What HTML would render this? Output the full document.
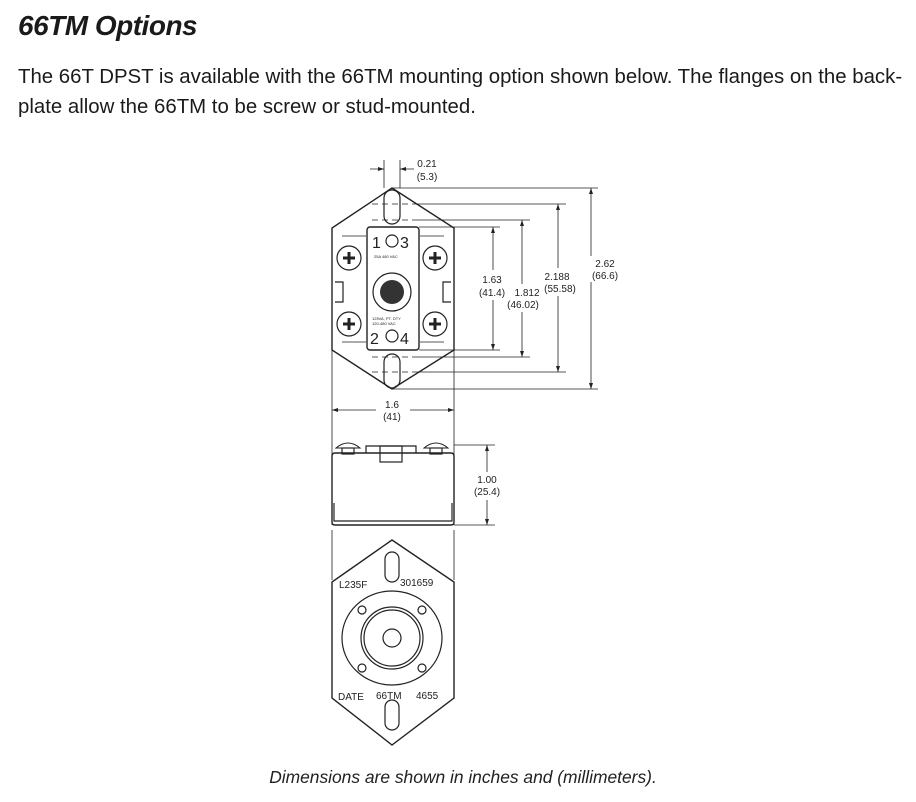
<!DOCTYPE html>
<html><head><style>
body{margin:0;width:916px;height:802px;background:#fff;font-family:"Liberation Sans",sans-serif;position:relative;overflow:hidden}
h1{position:absolute;left:18px;top:10px;margin:0;font-size:28px;font-weight:bold;font-style:italic;color:#1a1a1a;letter-spacing:-0.5px}
p{position:absolute;left:18px;top:62px;margin:0;font-size:20.4px;line-height:30px;color:#1a1a1a;width:898px;white-space:nowrap}
.cap{position:absolute;left:0;width:926px;text-align:center;top:767px;font-size:17.4px;font-style:italic;color:#222}
svg{position:absolute;left:0;top:0}
</style></head><body>
<h1>66TM Options</h1>
<p>The 66T DPST is available with the 66TM mounting option shown below. The flanges on the back-<br>plate allow the 66TM to be screw or stud-mounted.</p>
<svg width="916" height="802" font-family="Liberation Sans, sans-serif" font-size="10" fill="none" stroke="#222" stroke-width="1.2">
<path d="M392,188 L332,228 L332,350 L392,389 L454,350 L454,228 Z" stroke-width="1.4"/>
<path d="M342,236 h24 M342,342 h24 M420,236 h24 M420,342 h24" stroke-width="0.8"/>
<rect x="384" y="190" width="16" height="34" rx="8"/>
<rect x="384" y="354" width="16" height="34" rx="8"/>
<rect x="367" y="227" width="52" height="123" rx="3" stroke-width="1.4"/>
<circle cx="392" cy="292" r="19"/>
<circle cx="392" cy="292" r="12" fill="#333" stroke="none"/>
<circle cx="392" cy="241" r="6"/><circle cx="392" cy="336" r="6"/>
<circle cx="349" cy="258" r="12"/><circle cx="435" cy="258" r="12"/>
<circle cx="349" cy="324" r="12"/><circle cx="435" cy="324" r="12"/>
<path d="M343,258h12M349,252v12M429,258h12M435,252v12M343,324h12M349,318v12M429,324h12M435,318v12" stroke-width="3"/>
<path d="M335,282 h8 v20 h-8 M451,282 h-8 v20 h8" />
<g fill="#222" stroke="none" font-size="16"><text x="372" y="248">1</text><text x="400" y="248">3</text><text x="370" y="344">2</text><text x="400" y="344">4</text></g>
<g fill="#222" stroke="none" font-size="4"><text x="374" y="258">25A 480 VAC</text><text x="372" y="320">125VA, PT. DTY</text><text x="372" y="325">120-480 VAC</text></g>
<path d="M372,204 h40 M372,220 h40 M372,357 h40 M372,372 h40" stroke-dasharray="6,4" stroke-width="0.8"/>
<g stroke-width="0.8">
<path d="M392,188 H598 M412,204 H566 M412,220 H530 M419,227 H500 M419,350 H500 M412,357 H530 M412,372 H566 M392,389 H598"/>
<path d="M384,160 V188 M400,160 V188 M332,350 V525 M454,350 V525 M332,530 V580 M454,530 V580"/>
<path d="M493,227 V350 M522,220 V357 M558,204 V372 M591,188 V389"/>
<path d="M370,169 H384 M400,169 H414 M332,410 H454 M454,445 H495 M454,525 H495 M487,445 V525"/>
</g>
<g fill="#222" stroke="none">
<path d="M384,169 l-6,-2 v4z M400,169 l6,-2 v4z M332,410 l6,-2 v4z M454,410 l-6,-2 v4z"/>
<path d="M493,227 l-2,6 h4z M493,350 l-2,-6 h4z M522,220 l-2,6 h4z M522,357 l-2,-6 h4z M558,204 l-2,6 h4z M558,372 l-2,-6 h4z M591,188 l-2,6 h4z M591,389 l-2,-6 h4z M487,445 l-2,6 h4z M487,525 l-2,-6 h4z"/>
</g>
<g fill="#fff" stroke="none"><rect x="476" y="270" width="34" height="30"/><rect x="508" y="284" width="36" height="28"/><rect x="542" y="268" width="38" height="28"/><rect x="578" y="256" width="30" height="26"/><rect x="376" y="396" width="34" height="26"/><rect x="470" y="472" width="34" height="28"/></g>
<g fill="#222" stroke="none" font-size="10" text-anchor="middle">
<text x="427" y="167">0.21</text><text x="427" y="180">(5.3)</text>
<text x="492" y="283">1.63</text><text x="492" y="296">(41.4)</text>
<text x="527" y="296">1.812</text><text x="523" y="308">(46.02)</text>
<text x="557" y="280">2.188</text><text x="560" y="292">(55.58)</text>
<text x="605" y="267">2.62</text><text x="605" y="279">(66.6)</text>
<text x="392" y="408">1.6</text><text x="392" y="420">(41)</text>
<text x="487" y="483">1.00</text><text x="487" y="495">(25.4)</text>
</g>
<path d="M336,448 q12,-10 24,0 z M424,448 q12,-10 24,0 z" stroke-width="1"/>
<rect x="342" y="448" width="12" height="6"/><rect x="430" y="448" width="12" height="6"/>
<path d="M366,453 V446 h50 v7"/><rect x="380" y="446" width="22" height="16"/>
<path d="M335,453 H451 q3,0 3,3 V522 q0,3 -3,3 H335 q-3,0 -3,-3 V456 q0,-3 3,-3z" stroke-width="1.4"/>
<path d="M334,503 V521 H452 V503"/>
<path d="M392,540 L332,582 L332,698 L392,745 L454,698 L454,582 Z" stroke-width="1.4"/>
<rect x="385" y="552" width="14" height="30" rx="7"/>
<rect x="385" y="700" width="14" height="30" rx="7"/>
<ellipse cx="392" cy="638" rx="50" ry="47"/>
<circle cx="392" cy="638" r="31"/><circle cx="392" cy="638" r="28"/>
<circle cx="392" cy="638" r="9"/>
<circle cx="362" cy="610" r="4"/><circle cx="422" cy="610" r="4"/><circle cx="362" cy="668" r="4"/><circle cx="422" cy="668" r="4"/>
<g fill="#222" stroke="none" font-size="10"><text x="339" y="588">L235F</text><text x="400" y="586">301659</text><text x="338" y="700">DATE</text><text x="376" y="699">66TM</text><text x="416" y="699">4655</text></g>
</svg>
<div class="cap">Dimensions are shown in inches and (millimeters).</div>
</body></html>
